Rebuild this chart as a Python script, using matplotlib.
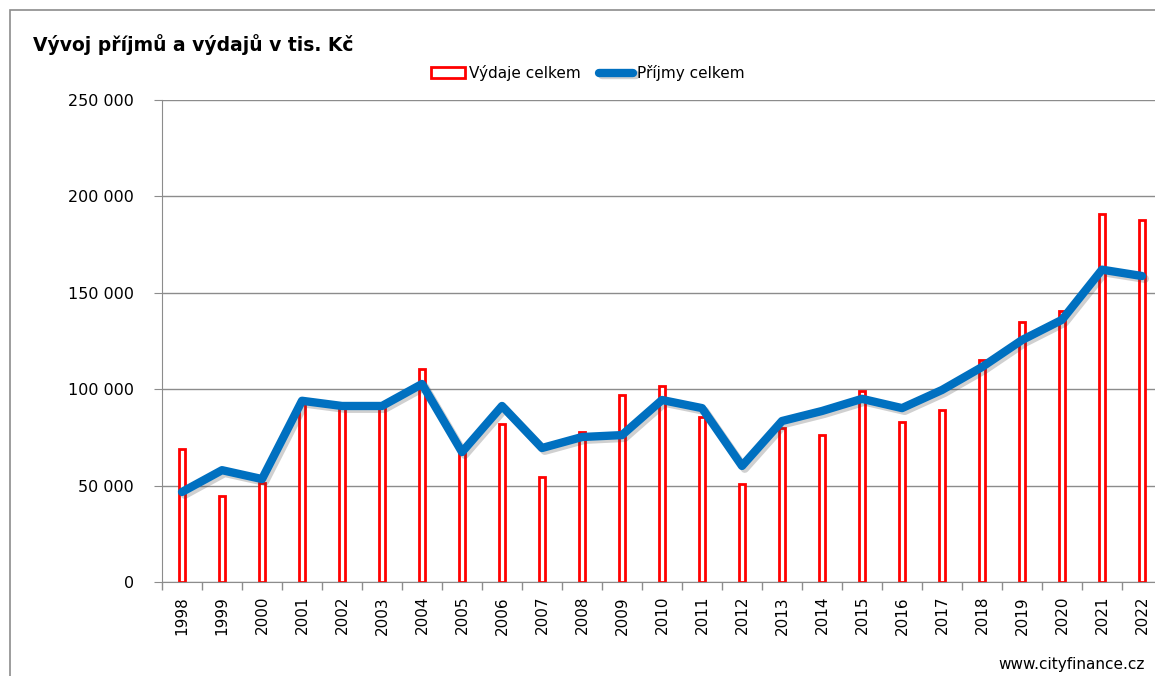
import matplotlib.pyplot as plt
import matplotlib.patheffects as pe
from matplotlib.patches import Rectangle
from matplotlib.ticker import FuncFormatter, FixedLocator
import numpy as np

years = [str(y) for y in range(1998, 2023)]
vydaje = [69000, 44600, 51300, 93000, 92000, 92000, 110500, 68000, 82000, 54500,
          77800, 97000, 101700, 85600, 50800, 80000, 76000, 99000, 83000, 89000,
          115000, 135000, 140500, 191000, 188000]
prijmy = [46700, 58000, 53400, 94000, 91300, 91300, 102700, 67400, 91300, 69500,
          75200, 76200, 94400, 90200, 60200, 83500, 88700, 95000, 90200, 99600,
          111500, 125500, 136000, 162000, 158700]

plt.rcParams['font.family'] = ['DejaVu Sans']

fig = plt.figure(figsize=(11.55, 6.76), dpi=100)
fig.patches.append(Rectangle((10 / 1155, -0.1), 1.2, (666 + 68) / 676, transform=fig.transFigure,
                             fill=False, edgecolor='#8c8c8c', linewidth=1.2))

ax = fig.add_axes([162 / 1155, 1 - 582 / 676, 1000 / 1155, 482 / 676])
x = np.arange(len(years))

bars = ax.bar(x, vydaje, width=0.17, color='white', edgecolor='#ff0000', linewidth=2,
              label='Výdaje celkem', zorder=2)
line, = ax.plot(x, prijmy, color='#0070c0', linewidth=6, solid_capstyle='round',
                solid_joinstyle='round', label='Příjmy celkem', zorder=3,
                path_effects=[pe.SimpleLineShadow(offset=(2, -2), alpha=0.25, shadow_color='#444444'),
                              pe.Normal()])

ax.set_xlim(-0.5, len(years) - 0.5)
ax.set_ylim(0, 250000)
ax.set_yticks(np.arange(0, 250001, 50000))
ax.yaxis.set_major_formatter(FuncFormatter(lambda v, p: f"{v:,.0f}".replace(",", " ")))
ax.grid(axis='y', color='#8c8c8c', linewidth=1)
ax.set_axisbelow(True)

ax.set_xticks(x)
ax.set_xticklabels(years, rotation=90, fontsize=11)
ax.xaxis.set_minor_locator(FixedLocator(np.arange(-0.5, len(years), 1)))
ax.tick_params(axis='x', which='major', length=0, pad=10)
ax.tick_params(axis='x', which='minor', length=6, color='#8c8c8c', width=1)
ax.tick_params(axis='y', length=6, color='#8c8c8c', labelsize=11.5, pad=14)

for s in ['top', 'right']:
    ax.spines[s].set_visible(False)
ax.spines['left'].set_color('#8c8c8c')
ax.spines['bottom'].set_color('#8c8c8c')

fig.text(33 / 1155, 1 - 45 / 676, 'Vývoj příjmů a výdajů v tis. Kč', fontsize=13.5,
         fontweight='bold', va='center', ha='left')
fig.legend(handles=[bars, line], loc='center', bbox_to_anchor=(588 / 1155, 1 - 73 / 676), ncol=2,
           frameon=False, fontsize=11, handlelength=2.2, handletextpad=0.3, columnspacing=1.2)
fig.text(1145 / 1155, 1 - 665 / 676, 'www.cityfinance.cz', fontsize=11, ha='right', va='center')

fig.savefig('out.png', dpi=100)
